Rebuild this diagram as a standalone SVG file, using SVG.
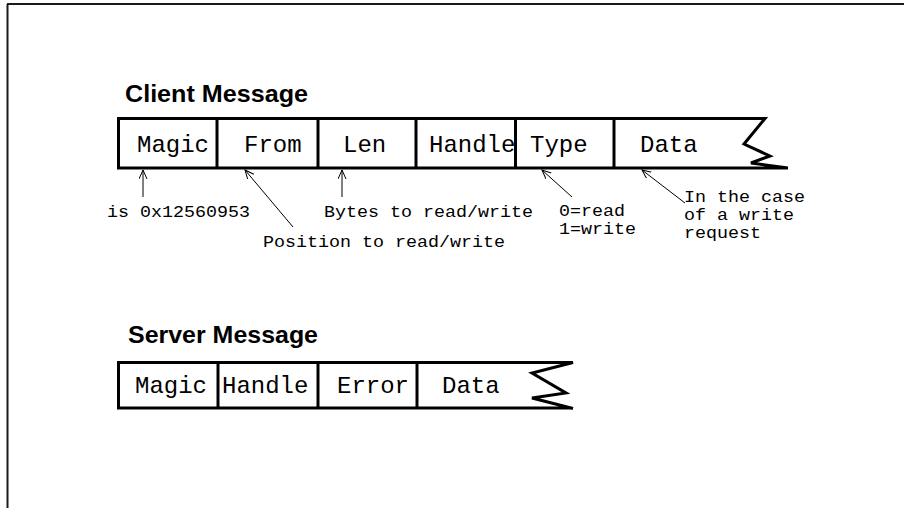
<svg xmlns="http://www.w3.org/2000/svg" width="904" height="508" viewBox="0 0 904 508">
  <style>
    .frame { stroke: #1a1a1a; stroke-width: 2; fill: none; }
    .box { stroke: #000; stroke-width: 3; fill: none; stroke-linejoin: miter; }
    .conn { stroke: #000; stroke-width: 1; fill: none; }
    .title { font-family: "Liberation Sans", Arial, sans-serif; font-weight: bold; font-size: 24px; fill: #000; }
    .field { font-family: "Liberation Mono", "Courier New", monospace; font-size: 24px; fill: #000; }
    .note { font-family: "Liberation Mono", "Courier New", monospace; font-size: 16.5px; fill: #000; }
  </style>
  <defs>
    <marker id="head" markerUnits="userSpaceOnUse" markerWidth="12" markerHeight="10" refX="9" refY="4" orient="auto">
      <path d="M0,0 L9,4 L0,8" fill="none" stroke="#000" stroke-width="1"/>
    </marker>
  </defs>

  <rect width="904" height="508" fill="#fff"/>
  <!-- page frame -->
  <line class="frame" x1="7" y1="4" x2="904" y2="4"/>
  <line class="frame" x1="7.5" y1="4" x2="7.5" y2="508"/>

  <!-- client message -->
  <g id="client">
    <text class="title" x="125" y="102" textLength="183" lengthAdjust="spacingAndGlyphs">Client Message</text>
    <path class="box" d="M788,168 L118.5,168 L118.5,118.5 L765,118.5 L744,144 L770,156 L751,163 L788,168"/>
    <g id="client-magic">
      <line class="box" x1="217" y1="118.5" x2="217" y2="168"/>
      <text class="field" x="137" y="152">Magic</text>
    </g>
    <g id="client-from">
      <line class="box" x1="318" y1="118.5" x2="318" y2="168"/>
      <text class="field" x="244" y="152">From</text>
    </g>
    <g id="client-len">
      <line class="box" x1="416" y1="118.5" x2="416" y2="168"/>
      <text class="field" x="343" y="152">Len</text>
    </g>
    <g id="client-handle">
      <line class="box" x1="515.5" y1="118.5" x2="515.5" y2="168"/>
      <text class="field" x="429" y="152">Handle</text>
    </g>
    <g id="client-type">
      <line class="box" x1="614" y1="118.5" x2="614" y2="168"/>
      <text class="field" x="530" y="152">Type</text>
    </g>
    <g id="client-data">
      <text class="field" x="640" y="152">Data</text>
    </g>
  </g>

  <!-- notes under client fields -->
  <g id="notes">
    <text class="note" x="107" y="217" textLength="143" lengthAdjust="spacingAndGlyphs">is 0x12560953</text>
    <text class="note" x="263" y="247" textLength="242" lengthAdjust="spacingAndGlyphs">Position to read/write</text>
    <text class="note" x="324" y="217" textLength="209" lengthAdjust="spacingAndGlyphs">Bytes to read/write</text>
    <text class="note" x="559" y="216" textLength="66" lengthAdjust="spacingAndGlyphs">0=read</text>
    <text class="note" x="559" y="234" textLength="77" lengthAdjust="spacingAndGlyphs">1=write</text>
    <text class="note" x="684" y="202" textLength="121" lengthAdjust="spacingAndGlyphs">In the case</text>
    <text class="note" x="684" y="220" textLength="110" lengthAdjust="spacingAndGlyphs">of a write</text>
    <text class="note" x="684" y="238" textLength="77" lengthAdjust="spacingAndGlyphs">request</text>
  </g>

  <g id="connectors">
    <line class="conn" x1="143" y1="197" x2="143" y2="170" marker-end="url(#head)"/>
    <line class="conn" x1="293" y1="227" x2="245" y2="170" marker-end="url(#head)"/>
    <line class="conn" x1="342" y1="197" x2="342" y2="170" marker-end="url(#head)"/>
    <line class="conn" x1="572" y1="197" x2="542" y2="170" marker-end="url(#head)"/>
    <line class="conn" x1="685" y1="203" x2="642" y2="170" marker-end="url(#head)"/>
  </g>

  <!-- server message -->
  <g id="server">
    <text class="title" x="128" y="343" textLength="190" lengthAdjust="spacingAndGlyphs">Server Message</text>
    <path class="box" d="M572,408 L118.5,408 L118.5,362.5 L573,362.5 L532,373 L566,393 L532,398 L573,408.5"/>
    <g id="server-magic">
      <line class="box" x1="218" y1="362.5" x2="218" y2="408"/>
      <text class="field" x="135" y="393">Magic</text>
    </g>
    <g id="server-handle">
      <line class="box" x1="318" y1="362.5" x2="318" y2="408"/>
      <text class="field" x="222" y="393">Handle</text>
    </g>
    <g id="server-error">
      <line class="box" x1="417" y1="362.5" x2="417" y2="408"/>
      <text class="field" x="337" y="393">Error</text>
    </g>
    <g id="server-data">
      <text class="field" x="442" y="393">Data</text>
    </g>
  </g>
</svg>
